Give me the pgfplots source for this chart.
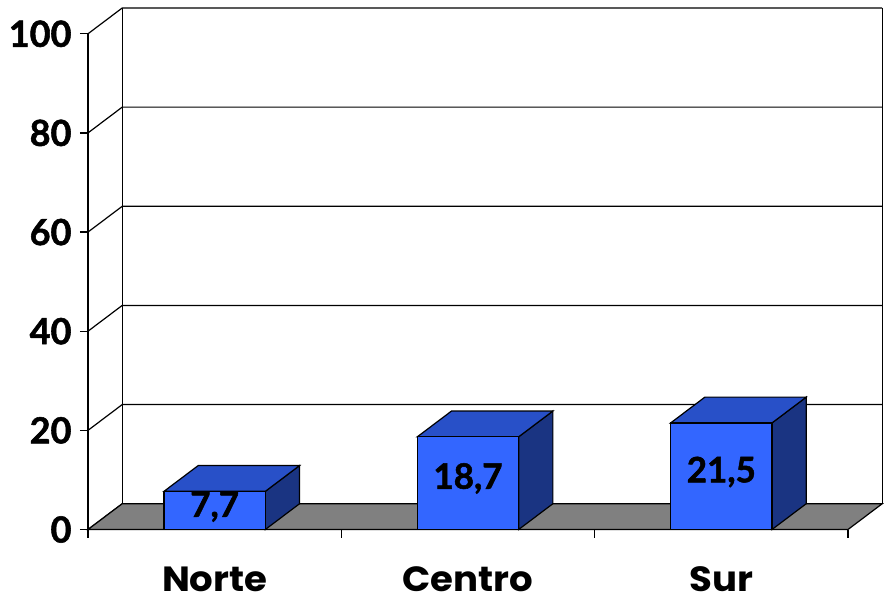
\documentclass[border=0pt]{standalone}
\usepackage{fontspec}
\setmainfont{Lato}
\newfontfamily\numfont{Lato}[BoldFeatures={FakeBold=1.5}]
\newfontfamily\catfont{Poppins}[BoldFeatures={FakeStretch=1.06}]
\usepackage{pgfplots}
\pgfplotsset{compat=1.18}
\definecolor{barfront}{RGB}{51,102,255}
\definecolor{bartop}{RGB}{40,80,200}
\definecolor{barside}{RGB}{26,52,130}
\definecolor{floorgray}{RGB}{128,128,128}
\begin{document}
\begin{tikzpicture}
\begin{axis}[
  scale only axis,
  width=794.2pt, height=521.5pt,
  at={(0,0)}, anchor=south west,
  xmin=0, xmax=3.135, ymin=0, ymax=105.2,
  clip=false,
  axis x line*=bottom, axis y line*=left,
  axis line style={draw=none},
  tick align=outside,
  ytick={0,20,40,60,80,100},
  y tick style={black, line width=1.2pt},
  major tick length=8pt,
  xtick={0.5,1.5,2.5},
  xticklabels={Norte,Centro,Sur},
  x tick style={draw=none},
  extra x ticks={0,1,2,3},
  extra x tick labels={},
  extra x tick style={x tick style={black, draw=black, line width=1.2pt}},
  yticklabel style={font=\fontsize{36}{42}\selectfont\numfont\bfseries, xshift=-5pt},
  xticklabel style={font=\fontsize{35}{42}\selectfont\catfont\bfseries, anchor=base, text depth=0pt, inner sep=0pt, yshift=-54pt},
  /pgf/number format/assume math mode=true,
]
% back wall and side wall gridlines
\pgfplotsinvokeforeach{0,20,40,60,80,100}{
  \draw[black, line width=1.2pt] (axis cs:0,#1) -- (axis cs:0.135,#1+5.2) -- (axis cs:3.135,#1+5.2);
}
\draw[black, line width=1.3pt] (axis cs:0.135,5.2) -- (axis cs:0.135,105.2);
\draw[black, line width=1.3pt] (axis cs:3.135,5.2) -- (axis cs:3.135,105.2);
% floor
\addplot[fill=floorgray, draw=black, line width=1.2pt] coordinates {(0,0) (3,0) (3.135,5.2) (0.135,5.2)} -- cycle;
% front axes
\draw[black, line width=1.3pt] (axis cs:0,0) -- (axis cs:0,100);
\draw[black, line width=1.3pt] (axis cs:0,0) -- (axis cs:3,0);
% Norte 7.7
\addplot[fill=barside, draw=black, line width=1.2pt] coordinates {(0.7,0) (0.835,5.2) (0.835,12.9) (0.7,7.7)} -- cycle;
\addplot[fill=bartop, draw=black, line width=1.2pt] coordinates {(0.3,7.7) (0.7,7.7) (0.835,12.9) (0.435,12.9)} -- cycle;
\addplot[fill=barfront, draw=black, line width=1.2pt] coordinates {(0.3,0) (0.7,0) (0.7,7.7) (0.3,7.7)} -- cycle;
% Centro 18.7
\addplot[fill=barside, draw=black, line width=1.2pt] coordinates {(1.7,0) (1.835,5.2) (1.835,23.9) (1.7,18.7)} -- cycle;
\addplot[fill=bartop, draw=black, line width=1.2pt] coordinates {(1.3,18.7) (1.7,18.7) (1.835,23.9) (1.435,23.9)} -- cycle;
\addplot[fill=barfront, draw=black, line width=1.2pt] coordinates {(1.3,0) (1.7,0) (1.7,18.7) (1.3,18.7)} -- cycle;
% Sur 21.5
\addplot[fill=barside, draw=black, line width=1.2pt] coordinates {(2.7,0) (2.835,5.2) (2.835,26.7) (2.7,21.5)} -- cycle;
\addplot[fill=bartop, draw=black, line width=1.2pt] coordinates {(2.3,21.5) (2.7,21.5) (2.835,26.7) (2.435,26.7)} -- cycle;
\addplot[fill=barfront, draw=black, line width=1.2pt] coordinates {(2.3,0) (2.7,0) (2.7,21.5) (2.3,21.5)} -- cycle;
% value labels
\node[font=\fontsize{35}{42}\selectfont\numfont\bfseries] at (axis cs:0.5,4.6) {7,7};
\node[font=\fontsize{35}{42}\selectfont\numfont\bfseries] at (axis cs:1.5,10.3) {18,7};
\node[font=\fontsize{35}{42}\selectfont\numfont\bfseries] at (axis cs:2.5,11.6) {21,5};
\end{axis}
\pgfresetboundingbox
\useasboundingbox (-88pt,-70.5pt) rectangle (801pt,529.5pt);
\end{tikzpicture}
\end{document}
